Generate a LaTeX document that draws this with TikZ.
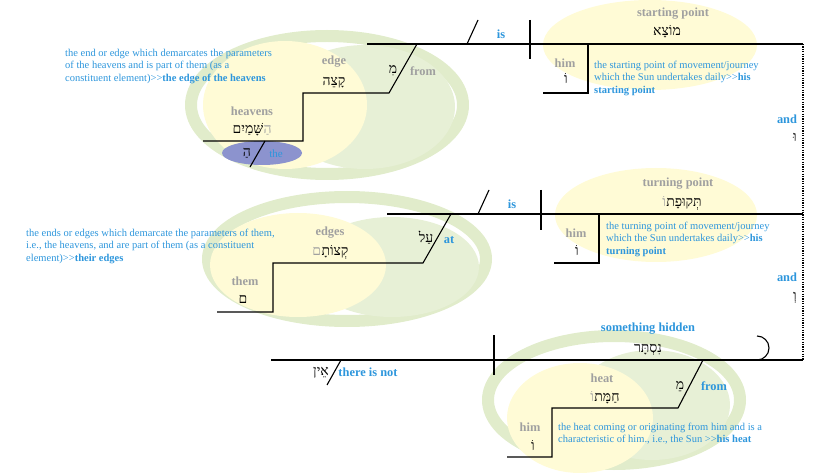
\documentclass[tikz,border=0pt]{standalone}
\usepackage{fontspec}
\setmainfont{Liberation Serif}
\newfontfamily\hebfont[Script=Hebrew]{Liberation Serif}
\TeXXeTstate=1
\usepackage{xcolor}
\usepackage{tikz}
\usetikzlibrary{positioning}

\definecolor{descblue}{RGB}{45,150,220}
\definecolor{labgray}{RGB}{160,160,160}
\definecolor{ringgreen}{RGB}{225,236,203}
\definecolor{innergreen}{RGB}{231,240,214}
\definecolor{paleyellow}{RGB}{255,251,214}
\definecolor{artblue}{RGB}{140,147,206}

\newcommand{\heb}[1]{{\hebfont\beginR #1\endR}}

\tikzset{
  gloss/.style={font=\bfseries\fontsize{12.4}{14}\selectfont, text=labgray, inner sep=0pt},
  bluegloss/.style={font=\bfseries\fontsize{12.4}{14}\selectfont, text=descblue, inner sep=0pt},
  hword/.style={font=\fontsize{14}{15}\selectfont, inner sep=0pt, text height=8pt, text depth=2pt},
  desc/.style={font=\fontsize{10.5}{12.4}\selectfont, text=descblue, align=left, anchor=north west, inner sep=0pt},
  diag/.style={line width=1.1pt},
  ring/.style={draw=ringgreen, line width=12pt},
}

\begin{document}
\begin{tikzpicture}[x=1pt,y=-1pt]
\useasboundingbox (0,0) rectangle (825,473);

% rings and ellipses
\draw[ring] (327,105) ellipse (136 and 69);
\fill[innergreen] (365,107) ellipse (90 and 62);
\fill[paleyellow] (285,105) ellipse (82 and 64);
\fill[artblue] (262,153) ellipse (40 and 12);

\draw[ring] (347,259) ellipse (139 and 62);
\fill[innergreen] (392,267) ellipse (87 and 50);
\fill[paleyellow] (298,265) ellipse (88 and 52);

\draw[ring] (614,400) ellipse (126 and 64);
\fill[innergreen] (652,405) ellipse (78 and 55);
\fill[paleyellow] (580,418) ellipse (73 and 55);

\fill[paleyellow] (650,45) ellipse (107 and 45);
\fill[paleyellow] (656,215) ellipse (101 and 47);

% clause 1
\draw[diag] (367,44) -- (803,44);
\draw[diag] (467,44) -- (478,20);
\draw[diag] (530,20) -- (530,59);
\draw[diag] (588,44) -- (588,93) -- (543,93);
\draw[diag] (417,44) -- (389,93) -- (303,93) -- (303,141) -- (203,141);
\draw[diag] (265,141) -- (250,167);
\draw[line width=1.2pt, dash pattern=on 1.3pt off 1.1pt] (803,44) -- (803,360);

\node[bluegloss] (is1) at (501,34) {is};
\node[gloss] (startgl) at (673,14) {starting point};
\node[hword] (start) at (667,33) {\heb{מוֹצָא}};
\node[gloss] (him1gl) at (565,63) {him};
\node[hword] (him1) at (566,81) {\heb{וֹ}};
\node[desc] (startdesc) at (594,61) {the starting point of movement/journey\\which the Sun undertakes daily>{}>\textbf{his}\\\textbf{starting point}};
\node[bluegloss] (and1gl) at (787,119) {and};
\node[hword] (and1) at (795,139) {\heb{וּ}};
\node[hword] (from1) at (393,71) {\heb{מִ}};
\node[gloss] (from1gl) at (423,71) {from};
\node[gloss] (edgegl) at (334,62) {edge};
\node[hword] (edge) at (334,83) {\heb{קָצֵה}};
\node[gloss] (heavgl) at (252,111) {heavens};
\node[hword] (heav) at (248,131) {\heb{שָּׁמַיִם}};
\node[hword, text=labgray, right=0pt of heav] (heavart) {\heb{הַ}};
\node[hword] (art) at (247,154) {\heb{הַ}};
\node[font=\fontsize{11}{12}\selectfont, text=descblue, inner sep=0pt] (artgl) at (276,154) {the};
\node[desc] (edgedesc) at (65,49) {the end or edge which demarcates the parameters\\of the heavens and is part of them (as a\\constituent element)>{}>\textbf{the edge of the heavens}};

% clause 2
\draw[diag] (387,214) -- (803,214);
\draw[diag] (478,214) -- (489,190);
\draw[diag] (541,190) -- (541,230);
\draw[diag] (599,214) -- (599,263) -- (554,263);
\draw[diag] (451,214) -- (423,263) -- (273,263) -- (273,312) -- (217,312);

\node[bluegloss] (is2) at (512,204) {is};
\node[gloss] (turngl) at (678,184) {turning point};
\node[hword] (turn) at (684,204) {\heb{תְּקוּפָת}};
\node[hword, text=labgray, left=0pt of turn] (turnsuf) {\heb{וֹ}};
\node[gloss] (him2gl) at (576,233) {him};
\node[hword] (him2) at (577,253) {\heb{וֹ}};
\node[desc] (turndesc) at (606,222) {the turning point of movement/journey\\which the Sun undertakes daily>{}>\textbf{his}\\\textbf{turning point}};
\node[bluegloss] (and2gl) at (787,277) {and};
\node[hword] (and2) at (795,297) {\heb{וְ}};
\node[hword] (at) at (426,240) {\heb{עַל}};
\node[bluegloss] (atgl) at (449,240) {at};
\node[gloss] (edgesgl) at (330,233) {edges};
\node[hword] (edges) at (335,253) {\heb{קְצוֹתָ}};
\node[hword, text=labgray, left=0pt of edges] (edgessuf) {\heb{ם}};
\node[gloss] (themgl) at (245,281) {them};
\node[hword] (them) at (243,301) {\heb{ם}};
\node[desc] (edgesdesc) at (26,229) {the ends or edges which demarcate the parameters of them,\\i.e., the heavens, and are part of them (as a constituent\\element)>{}>\textbf{their edges}};

% clause 3
\draw[diag] (271,360) -- (803,360);
\draw[diag] (341,360) -- (327,385);
\draw[diag] (494,335) -- (494,375);
\draw[diag] (757,336) arc (-90:90:12);
\draw[diag] (703,360) -- (678,408) -- (552,408) -- (552,457) -- (507,457);

\node[bluegloss] (hiddengl) at (648,329) {something hidden};
\node[hword] (hidden) at (648,349) {\heb{נִסְתָּר}};
\node[hword] (none) at (321,372) {\heb{אֵין}};
\node[bluegloss] (nonegl) at (368,372) {there is not};
\node[hword] (from3) at (680,386) {\heb{מֵ}};
\node[bluegloss] (from3gl) at (714,386) {from};
\node[gloss] (heatgl) at (602,378) {heat};
\node[hword] (heat) at (607,398) {\heb{חַמָּת}};
\node[hword, text=labgray, left=0pt of heat] (heatsuf) {\heb{וֹ}};
\node[gloss] (him3gl) at (530,427) {him};
\node[hword] (him3) at (533,447) {\heb{וֹ}};
\node[desc] (heatdesc) at (558,423) {the heat coming or originating from him and is a\\characteristic of him., i.e., the Sun >{}>\textbf{his heat}};
\end{tikzpicture}
\end{document}
